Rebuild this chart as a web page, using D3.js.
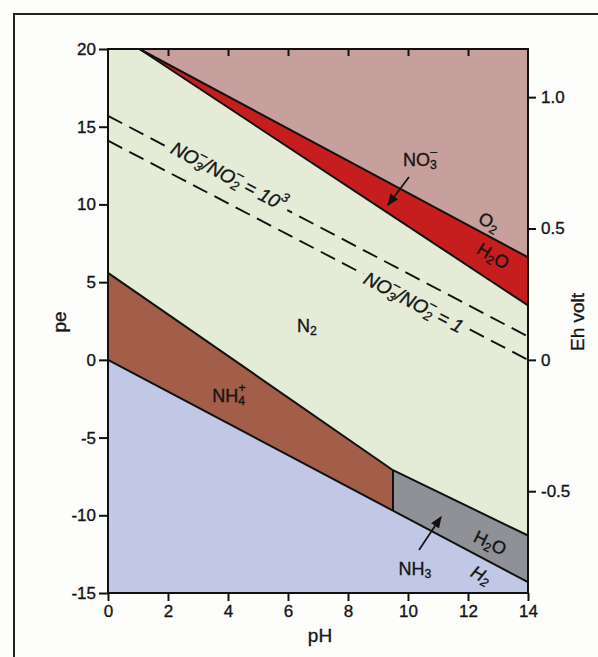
<!DOCTYPE html>
<html>
<head>
<meta charset="utf-8">
<script src="https://cdn.jsdelivr.net/npm/d3@7/dist/d3.min.js"></script>
<style>
  html, body { margin: 0; padding: 0; background: #fdfdfc; }
  svg { display: block; }
  text { font-family: "Liberation Sans", Arial, Helvetica, sans-serif; fill: #151515; stroke: #151515; stroke-width: 0.35px; }
</style>
</head>
<body>
<svg id="chart" width="598" height="657"></svg>
<script>
// ---------- data ----------
const phTicks = [0, 2, 4, 6, 8, 10, 12, 14];
const peTicks = [-15, -10, -5, 0, 5, 10, 15, 20];
const ehTicks = [-0.5, 0, 0.5, 1.0];
const ehTickLabels = ["-0.5", "0", "0.5", "1.0"];
const peDomain = [-15, 20];
const phDomain = [0, 14];
const ehPerPe = 0.05916;

// boundary lines, [pH, pe]
const o2h2oLine = [[1.05, 20], [14, 6.6]];
const no3n2Line = [[1.05, 20], [14, 3.5]];
const ratio1000Line = [[0, 15.7], [14, 1.5]];
const ratio1Line = [[0, 14.1], [14, 0.0]];
const nh4n2Line = [[0, 5.6], [9.5, -7.1]];
const nh3n2Line = [[9.5, -7.1], [14, -11.3]];
const h2oh2Line = [[0, 0], [14, -14.3]];
const nh4nh3Line = [[9.5, -7.1], [9.5, -9.7]];

// region polygons, [pH, pe]
const regionO2 = [[1.05, 20], [14, 20], [14, 6.6]];
const regionNO3 = [[1.05, 20], [14, 6.6], [14, 3.5]];
const regionNH4 = [[0, 5.6], [9.5, -7.1], [9.5, -9.7], [0, 0]];
const regionNH3 = [[9.5, -7.1], [14, -11.3], [14, -14.3], [9.5, -9.7]];
const regionH2 = [[0, 0], [14, -14.3], [14, -15], [0, -15]];

const colors = {
  n2: "#e4ecd8", o2: "#c79f9c", no3: "#c61d1e",
  nh4: "#a25e49", nh3: "#8f9197", h2: "#c1c8e6"
};

// ---------- layout ----------
const svg = d3.select("#chart");
const L = 108, R = 528, T = 49, B = 593;
const x = d3.scaleLinear().domain(phDomain).range([L, R]);
const y = d3.scaleLinear().domain(peDomain).range([B, T]);
const yEh = d3.scaleLinear().domain([peDomain[0] * ehPerPe, peDomain[1] * ehPerPe]).range([B, T]);

// outer frame of the figure
svg.append("rect").attr("x", 14).attr("y", 14).attr("width", 700).attr("height", 700)
  .attr("fill", "none").attr("stroke", "#222").attr("stroke-width", 2);

const line = d3.line().x(d => x(d[0])).y(d => y(d[1]));
const poly = pts => line(pts) + "Z";

// regions
svg.append("rect").attr("x", L).attr("y", T).attr("width", R - L).attr("height", B - T).attr("fill", colors.n2);
[[regionO2, colors.o2], [regionNO3, colors.no3], [regionNH4, colors.nh4],
 [regionNH3, colors.nh3], [regionH2, colors.h2]].forEach(([p, c]) => {
  svg.append("path").attr("d", poly(p)).attr("fill", c);
});

// dashed lines
[ratio1000Line, ratio1Line].forEach(p => {
  svg.append("path").attr("d", line(p)).attr("fill", "none").attr("stroke", "#111")
    .attr("stroke-width", 1.9).attr("stroke-dasharray", "16,8");
});

// solid boundaries
[o2h2oLine, no3n2Line, nh4n2Line, nh3n2Line, h2oh2Line, nh4nh3Line].forEach(p => {
  svg.append("path").attr("d", line(p)).attr("fill", "none").attr("stroke", "#111")
    .attr("stroke-width", 2);
});

// ---------- axes ----------
const axG = svg.append("g");
const styleAxis = g => {
  g.select(".domain").remove();
  g.selectAll(".tick line").attr("stroke", "#111").attr("stroke-width", 2);
  g.selectAll(".tick text").attr("font-size", 17).attr("fill", "#151515")
    .attr("font-family", "'Liberation Sans', Arial, sans-serif");
};
axG.append("g").attr("transform", `translate(0,${B})`)
  .call(d3.axisBottom(x).tickValues(phTicks).tickSize(8).tickPadding(4).tickFormat(d => String(d)))
  .call(styleAxis);
axG.append("g").attr("transform", `translate(0,${T})`)
  .call(d3.axisTop(x).tickValues(phTicks.slice(1, -1)).tickSize(-7).tickFormat(""))
  .call(styleAxis);
axG.append("g").attr("transform", `translate(${L},0)`)
  .call(d3.axisLeft(y).tickValues(peTicks).tickSize(9).tickPadding(3).tickFormat(d => String(d)))
  .call(styleAxis);
axG.append("g").attr("transform", `translate(${R},0)`)
  .call(d3.axisRight(yEh).tickValues(ehTicks).tickSize(8).tickPadding(5)
    .tickFormat((d, i) => ehTickLabels[i]))
  .call(styleAxis);
// frame of plot
svg.append("rect").attr("x", L).attr("y", T).attr("width", R - L).attr("height", B - T)
  .attr("fill", "none").attr("stroke", "#111").attr("stroke-width", 2);

// axis titles
svg.append("text").attr("x", 320).attr("y", 642).attr("text-anchor", "middle").attr("font-size", 19).text("pH");
svg.append("text").attr("transform", "translate(66,322) rotate(-90)").attr("text-anchor", "middle").attr("font-size", 19).text("pe");
svg.append("text").attr("transform", "translate(584,322) rotate(-90)").attr("text-anchor", "middle").attr("font-size", 19).text("Eh volt");

// ---------- labels ----------
function rich(sel, parts, fs) {
  let cur = 0;
  parts.forEach(p => {
    const target = p.k === "b" ? 0.28 * fs : p.k === "p" ? -0.42 * fs : 0;
    const ts = sel.append("tspan").text(p.t).attr("dy", target - cur);
    if (p.k !== "n") ts.attr("font-size", fs * 0.68);
    if (p.dx !== undefined) ts.attr("dx", p.dx);
    cur = target;
  });
}
function angleOf(seg) {
  const dx = x(seg[1][0]) - x(seg[0][0]);
  const dy = y(seg[1][1]) - y(seg[0][1]);
  return Math.atan2(dy, dx) * 180 / Math.PI;
}
function label(cx, cy, parts, opts = {}) {
  const fs = opts.fs || 18;
  const g = svg.append("g").attr("transform", `translate(${cx},${cy}) rotate(${opts.rot || 0})`);
  const bg = opts.bg ? g.append("rect") : null;
  const t = g.append("text").attr("text-anchor", "middle").attr("dominant-baseline", "central")
    .attr("font-size", fs).attr("font-style", opts.italic ? "italic" : "normal");
  rich(t, parts, fs);
  if (bg) {
    const bb = t.node().getBBox();
    bg.attr("x", bb.x - 3).attr("y", bb.y + 3).attr("width", bb.width + 6).attr("height", bb.height - 4).attr("fill", opts.bg);
  }
  return g;
}

const sub = fs => -0.36 * fs;
const ratioParts = (last, fs) => [
  { t: "NO", k: "n" }, { t: "3", k: "b" }, { t: "\u2013", k: "p", dx: sub(fs) },
  { t: "/NO", k: "n" }, { t: "2", k: "b" }, { t: "\u2013", k: "p", dx: sub(fs) },
  ...last
];
const aR = angleOf(ratio1000Line);
label(229, 176, ratioParts([{ t: " = 10", k: "n" }, { t: "3", k: "p" }], 19), { rot: aR, italic: true, bg: colors.n2, fs: 19 });
label(414, 302, ratioParts([{ t: " = 1", k: "n" }], 19), { rot: aR, italic: true, bg: colors.n2, fs: 19 });

label(420, 160, [{ t: "NO", k: "n" }, { t: "3", k: "b" }, { t: "\u2013", k: "p", dx: sub(18) }]);
label(489, 222, [{ t: "O", k: "n" }, { t: "2", k: "b" }], { rot: angleOf(o2h2oLine) });
label(493, 256, [{ t: "H", k: "n" }, { t: "2", k: "b" }, { t: "O", k: "n" }], { rot: (angleOf(o2h2oLine) + angleOf(no3n2Line)) / 2 });
label(307, 326, [{ t: "N", k: "n" }, { t: "2", k: "b" }]);
label(229, 396, [{ t: "NH", k: "n" }, { t: "4", k: "b" }, { t: "+", k: "p", dx: sub(18) }]);
label(415, 569, [{ t: "NH", k: "n" }, { t: "3", k: "b" }]);
label(490, 543, [{ t: "H", k: "n" }, { t: "2", k: "b" }, { t: "O", k: "n" }], { rot: angleOf(nh3n2Line) });
label(481, 575, [{ t: "H", k: "n" }, { t: "2", k: "b" }], { rot: angleOf(h2oh2Line), italic: true });

// arrows
const defs = svg.append("defs");
defs.append("marker").attr("id", "ah").attr("viewBox", "0 0 10 10").attr("refX", 9).attr("refY", 5)
  .attr("markerWidth", 7).attr("markerHeight", 7).attr("orient", "auto")
  .append("path").attr("d", "M0,1 L10,5 L0,9 Z").attr("fill", "#111");
[[409, 177, 388, 205], [419, 550, 441, 517]].forEach(([x1, y1, x2, y2]) => {
  svg.append("line").attr("x1", x1).attr("y1", y1).attr("x2", x2).attr("y2", y2)
    .attr("stroke", "#111").attr("stroke-width", 1.7).attr("marker-end", "url(#ah)");
});
</script>
</body>
</html>
